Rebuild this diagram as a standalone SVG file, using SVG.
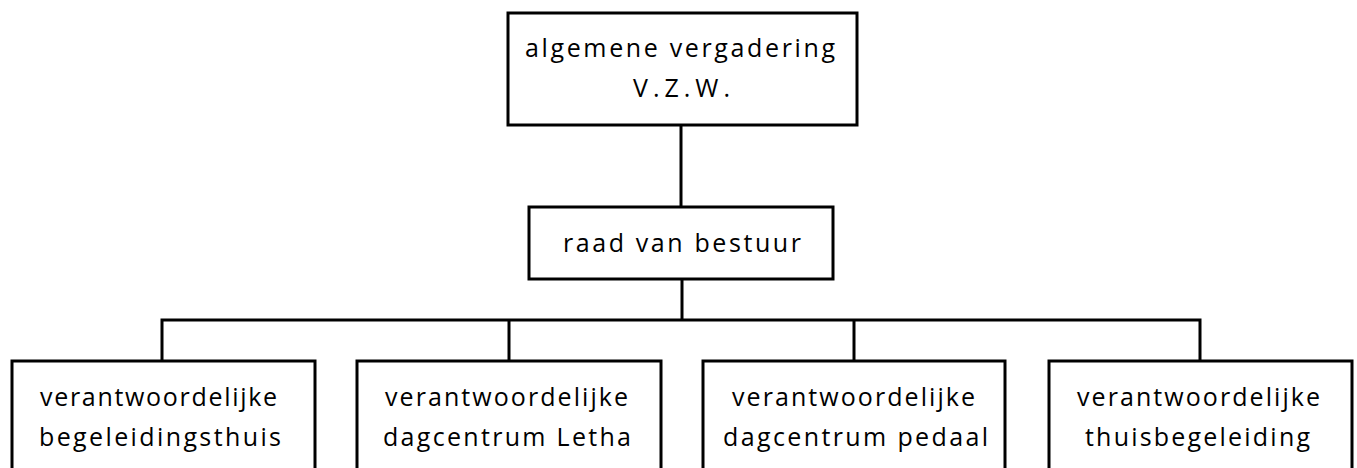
<svg xmlns="http://www.w3.org/2000/svg" width="1357" height="468" viewBox="0 0 1357 468">
<style>
.box{fill:#fff;stroke:#000;stroke-width:3}
.ln{fill:none;stroke:#000;stroke-width:3}
text{font-family:"Open Sans","Liberation Sans",sans-serif;font-size:25px;fill:#000}
</style>
<rect width="1357" height="468" fill="#fff"/>
<g id="connectors">
<line class="ln" x1="681" y1="125" x2="681" y2="207"/>
<line class="ln" x1="682" y1="279" x2="682" y2="320"/>
<polyline class="ln" points="162,361 162,320 1200,320 1200,361"/>
<line class="ln" x1="509" y1="320" x2="509" y2="361"/>
<line class="ln" x1="854" y1="320" x2="854" y2="361"/>
</g>
<g id="n1">
<rect class="box" x="508" y="13" width="349" height="112"/>
<text x="525" y="57" textLength="310" lengthAdjust="spacing">algemene vergadering</text>
<text x="633" y="97" textLength="97" lengthAdjust="spacing">V.Z.W.</text>
</g>
<g id="n2">
<rect class="box" x="529" y="207" width="304" height="72"/>
<text x="563" y="252" textLength="238" lengthAdjust="spacing">raad van bestuur</text>
</g>
<g id="n3">
<rect class="box" x="12" y="361" width="303" height="120"/>
<text x="40" y="406" textLength="237" lengthAdjust="spacing">verantwoordelijke</text>
<text x="39" y="446" textLength="242" lengthAdjust="spacing">begeleidingsthuis</text>
</g>
<g id="n4">
<rect class="box" x="357" y="361" width="304" height="120"/>
<text x="385" y="406" textLength="243" lengthAdjust="spacing">verantwoordelijke</text>
<text x="383" y="446" textLength="248" lengthAdjust="spacing">dagcentrum Letha</text>
</g>
<g id="n5">
<rect class="box" x="703" y="361" width="302" height="120"/>
<text x="732" y="406" textLength="243" lengthAdjust="spacing">verantwoordelijke</text>
<text x="723" y="446" textLength="265" lengthAdjust="spacing">dagcentrum pedaal</text>
</g>
<g id="n6">
<rect class="box" x="1049" y="361" width="303" height="120"/>
<text x="1077" y="406" textLength="243" lengthAdjust="spacing">verantwoordelijke</text>
<text x="1085" y="446" textLength="225" lengthAdjust="spacing">thuisbegeleiding</text>
</g>
</svg>
